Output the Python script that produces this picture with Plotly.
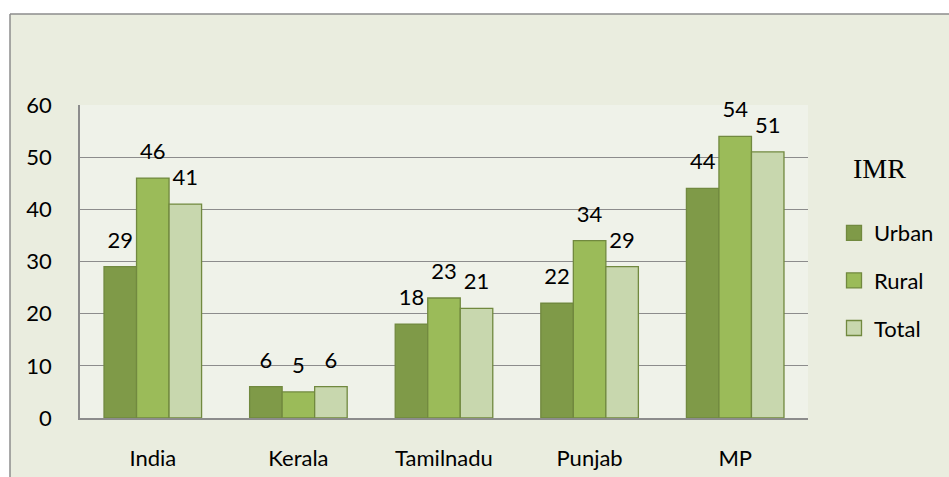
import plotly.graph_objects as go

categories = ["India", "Kerala", "Tamilnadu", "Punjab", "MP"]
urban = [29, 6, 18, 22, 44]
rural = [46, 5, 23, 34, 54]
total = [41, 6, 21, 29, 51]
series_names = ["Urban", "Rural", "Total"]
series_colors = ["#7F9A48", "#9BBB59", "#C8D7AE"]
y_ticks = [0, 10, 20, 30, 40, 50, 60]

W, H = 949, 477
L, R, T, B = 80, 141, 105, 59
pw, ph = W - L - R, H - T - B

def px_x(x):
    return (x - L) / pw

def px_y(y):
    return (H - B - y) / ph

FONT = "Lato, 'Open Sans', sans-serif"
FS = 22
EDGE = "#71893F"

fig = go.Figure()
for name, vals, col in zip(series_names, [urban, rural, total], series_colors):
    fig.add_trace(go.Bar(
        x=categories, y=vals, name=name, offsetgroup=name, showlegend=False,
        marker=dict(color=col, line=dict(color=EDGE, width=1.3)),
        hoverinfo="x+y+name",
    ))
# data labels, aligned with the grouped bars
for name, vals in zip(series_names, [urban, rural, total]):
    fig.add_trace(go.Scatter(
        x=categories, y=vals, offsetgroup=name, mode="markers+text", showlegend=False,
        text=[str(v) for v in vals], textposition="top center",
        textfont=dict(family=FONT, size=FS, color="#000000"),
        marker=dict(size=20, opacity=0), cliponaxis=False, hoverinfo="skip",
    ))
# legend entries
for name, col in zip(series_names, series_colors):
    fig.add_trace(go.Scatter(
        x=[None], y=[None], name=name, mode="markers", legendgroup=name,
        marker=dict(symbol="square", size=15, color=col, line=dict(color=EDGE, width=1.3)),
    ))

shapes = [
    dict(type="rect", xref="paper", yref="paper", x0=px_x(-5), x1=px_x(960), y0=px_y(14), y1=px_y(-5),
         fillcolor="white", line=dict(width=0), layer="below"),
    dict(type="rect", xref="paper", yref="paper", x0=px_x(-5), x1=px_x(10), y0=px_y(490), y1=px_y(-5),
         fillcolor="white", line=dict(width=0), layer="below"),
    dict(type="line", xref="paper", yref="paper", x0=px_x(10), x1=px_x(960), y0=px_y(14), y1=px_y(14),
         line=dict(color="#8C8C8C", width=1.5)),
    dict(type="line", xref="paper", yref="paper", x0=px_x(10), x1=px_x(10), y0=px_y(14), y1=px_y(490),
         line=dict(color="#8C8C8C", width=1.5)),
]

fig.update_layout(
    width=W, height=H,
    margin=dict(l=L, r=R, t=T, b=B, autoexpand=False),
    paper_bgcolor="#EAEDDF",
    plot_bgcolor="#EFF2E9",
    barmode="group", bargap=0.33, bargroupgap=0,
    scattermode="group", scattergap=0.33,
    font=dict(family=FONT, size=FS, color="#000000"),
    showlegend=True,
    legend=dict(
        x=px_x(834), y=px_y(212), xanchor="left", yanchor="top",
        bgcolor="rgba(0,0,0,0)", font=dict(family=FONT, size=FS),
        tracegroupgap=16, traceorder="grouped",
    ),
    shapes=shapes,
    annotations=[dict(
        text="IMR", xref="paper", yref="paper", x=px_x(851), y=px_y(168),
        xanchor="left", yanchor="middle", showarrow=False,
        font=dict(family="'Liberation Serif', 'Times New Roman', serif", size=28, color="#000000"),
    )],
    xaxis=dict(
        showline=True, linecolor="#8C8C8C", linewidth=1.5, automargin=False,
        ticks="", tickfont=dict(family=FONT, size=FS), ticklabelstandoff=20,
        showgrid=False,
    ),
    yaxis=dict(
        range=[0, 60], tickvals=y_ticks, showgrid=True, gridcolor="#8C8C8C", gridwidth=1.3,
        showline=True, linecolor="#8C8C8C", linewidth=1.5, zeroline=False, automargin=False,
        ticks="", tickfont=dict(family=FONT, size=FS), ticklabelstandoff=22,
    ),
)

fig.write_html("out.html", config={"displayModeBar": False},
               post_script="document.body.style.margin='0';document.body.style.overflow='hidden';")
